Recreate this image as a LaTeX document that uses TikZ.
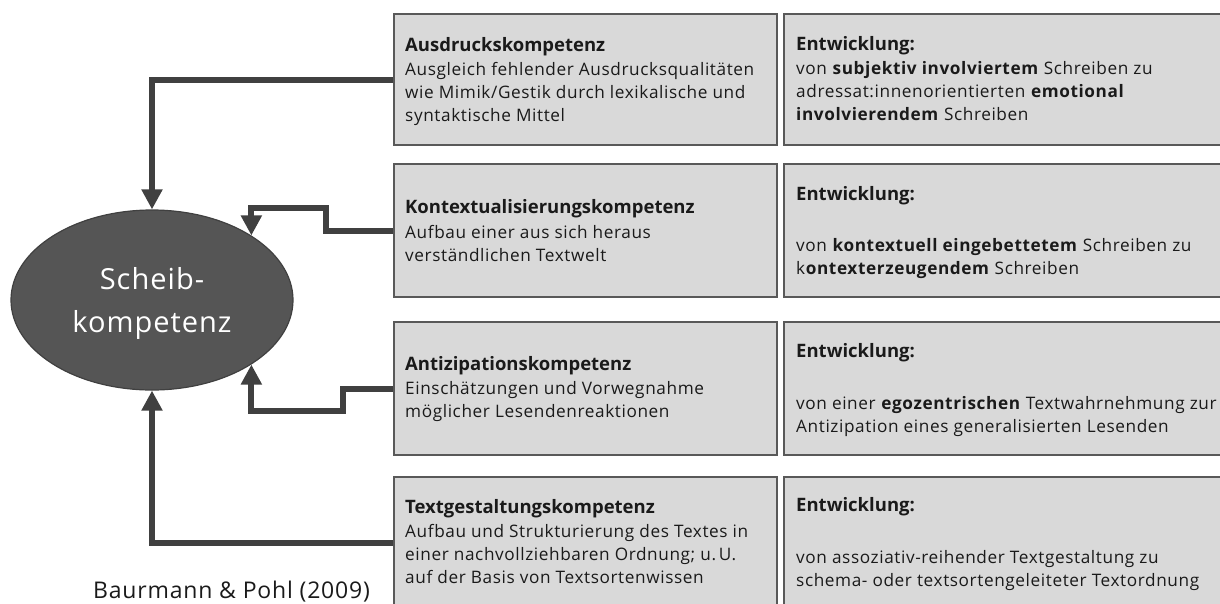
\documentclass[tikz,border=0pt]{standalone}
\usepackage{fontspec}
\setmainfont{Open Sans}
\newfontfamily\widefont{Open Sans}[LetterSpace=3.5]
\usetikzlibrary{arrows.meta,shapes.geometric}
\definecolor{boxfill}{HTML}{D9D9D9}
\definecolor{boxline}{HTML}{595959}
\definecolor{arrowcol}{HTML}{404040}
\definecolor{ovalfill}{HTML}{555555}
\definecolor{inkcol}{HTML}{1A1A1A}
\newcommand\blk[1]{\begin{tabular}[t]{@{}l@{}}#1\end{tabular}}
\tikzset{
  panel/.style={draw=boxline, line width=2pt, fill=boxfill, rectangle, anchor=north west, inner sep=0pt},
  lpanel/.style={panel, minimum width=383pt},
  rpanel/.style={panel, minimum width=470pt},
  ttl/.style={anchor=base west, inner sep=0pt, text=inkcol, font=\fontsize{18.5}{23}\selectfont\bfseries},
  body/.style={anchor=base west, inner sep=0pt, text=inkcol, font=\widefont\fontsize{17.2}{23}\selectfont},
  ovaltext/.style={anchor=base, text=white, font=\widefont\fontsize{29}{43}\selectfont},
  feed/.style={draw=arrowcol, line width=6pt, line join=miter, -{Triangle[width=20pt,length=20pt]}},
}
\begin{document}
\begin{tikzpicture}[x=1pt,y=-1pt]
\useasboundingbox (0,0) rectangle (1220,603);
\clip (0,0) rectangle (1220,603);

% central competence
\node[ellipse, draw=arrowcol, line width=1.2pt, fill=ovalfill, minimum width=282pt, minimum height=180pt, inner sep=0pt] (sc) at (152,300) {};
\node[ovaltext] (sc1) at (152,289) {Scheib-};
\node[ovaltext] (sc2) at (152,332) {kompetenz};

% left column: sub-competences
\node[lpanel, minimum height=131pt] (k1) at (393,13) {};
\node[lpanel, minimum height=133pt] (k2) at (393,163) {};
\node[lpanel, minimum height=133pt] (k3) at (393,321) {};
\node[lpanel, minimum height=132pt] (k4) at (393,476) {};

% right column: development
\node[rpanel, minimum height=131pt] (e1) at (783,13) {};
\node[rpanel, minimum height=133pt] (e2) at (783,163) {};
\node[rpanel, minimum height=133pt] (e3) at (783,321) {};
\node[rpanel, minimum height=132pt] (e4) at (783,476) {};

% texts of the left column
\node[ttl] (k1t) at (405,51) {Ausdruckskompetenz};
\node[body] (k1b) at (405,75) {\blk{Ausgleich fehlender Ausdrucksqualitäten\\wie Mimik/Gestik durch lexikalische und\\syntaktische Mittel}};
\node[ttl] (k2t) at (405,213) {Kontextualisierungskompetenz};
\node[body] (k2b) at (405,238) {\blk{Aufbau einer aus sich heraus\\verständlichen Textwelt}};
\node[ttl] (k3t) at (405,370) {Antizipationskompetenz};
\node[body] (k3b) at (405,394) {\blk{Einschätzungen und Vorwegnahme\\möglicher Lesendenreaktionen}};
\node[ttl] (k4t) at (405,513) {Textgestaltungskompetenz};
\node[body] (k4b) at (405,537) {\blk{Aufbau und Strukturierung des Textes in\\einer nachvollziehbaren Ordnung; u.\,U.\\auf der Basis von Textsortenwissen}};

% texts of the right column
\node[ttl] (e1t) at (796,50) {Entwicklung:};
\node[body] (e1b) at (796,74) {\blk{von \textbf{subjektiv involviertem} Schreiben zu\\adressat:innenorientierten \textbf{emotional}\\\textbf{involvierendem} Schreiben}};
\node[ttl] (e2t) at (796,200) {Entwicklung:};
\node[body] (e2b) at (796,251) {\blk{von \textbf{kontextuell eingebettetem} Schreiben zu\\k\textbf{ontexterzeugendem} Schreiben}};
\node[ttl] (e3t) at (796,357) {Entwicklung:};
\node[body] (e3b) at (796,409) {\blk{von einer \textbf{egozentrischen} Textwahrnehmung zur\\Antizipation eines generalisierten Lesenden}};
\node[ttl] (e4t) at (796,511) {Entwicklung:};
\node[body] (e4b) at (796,563) {\blk{von assoziativ-reihender Textgestaltung zu\\schema- oder textsortengeleiteter Textordnung}};

% feedback connectors into the central competence
\coordinate (c2) at (326,208);
\coordinate (c3) at (343,411);
\draw[feed] (k1.west) -| (sc.north);
\draw[feed] (k2.west) -| (c2) -| (sc.33.6);
\draw[feed] (k3.west) -| (c3) -| (sc.-33);
\draw[feed] (k4.west) -| (sc.south);

% source
\node[anchor=base west, inner sep=0pt, text=inkcol, font=\widefont\fontsize{23}{26}\selectfont] (src) at (93,598) {Baurmann \& Pohl (2009)};
\end{tikzpicture}
\end{document}
